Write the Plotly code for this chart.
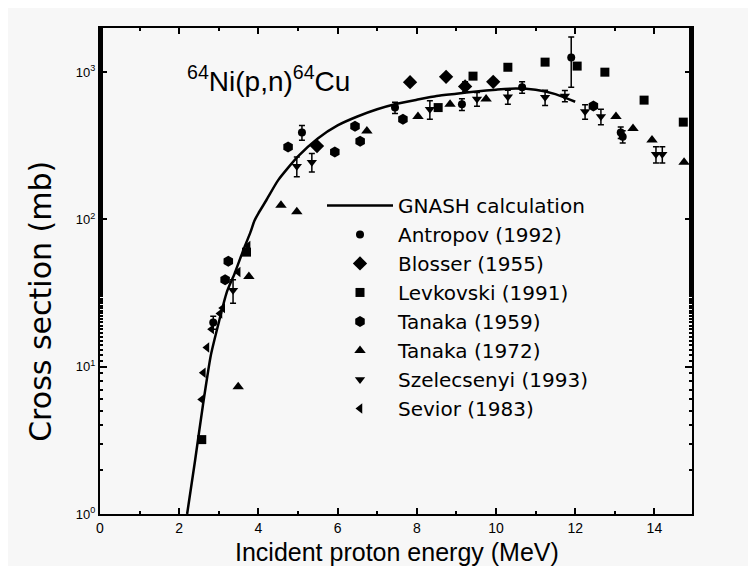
import plotly.graph_objects as go

# GNASH calculation curve
gnash_E = [2.2, 2.4, 2.6, 2.8, 3.0, 3.2, 3.4, 3.6, 3.8, 3.9, 4.0, 4.2, 4.5, 5.0, 5.5, 6.0,
           6.5, 7.0, 7.5, 8.0, 8.5, 9.0, 9.5, 10.0, 10.5, 11.0, 11.5, 12.0]
gnash_xs = [1.0, 2.3, 5.5, 12, 20, 32, 43, 60, 82, 98, 110, 135, 185, 268, 355, 435,
            500, 560, 610, 650, 690, 715, 740, 760, 775, 760, 710, 630]

# Experimental data
antropov_E = [2.86, 5.1, 7.45, 9.14, 10.66, 11.9, 13.15, 13.2]
antropov_xs = [20, 390, 575, 605, 790, 1260, 390, 365]
antropov_err = [2, 45, 50, 55, 70, 470, 35, 35]

blosser_E = [5.48, 7.83, 8.74, 9.22, 9.93]
blosser_xs = [315, 855, 930, 800, 860]
blosser_err = [0, 0, 0, 60, 0]

levkovski_E = [2.57, 3.7, 8.54, 9.42, 10.3, 11.24, 12.05, 12.75, 13.74, 14.73]
levkovski_xs = [3.2, 60, 575, 940, 1080, 1170, 1100, 1000, 646, 458]

tanaka59_E = [3.16, 3.24, 4.75, 5.93, 6.44, 7.65, 12.46, 6.57]
tanaka59_xs = [39, 52, 310, 287, 430, 480, 590, 340]

tanaka72_E = [3.49, 3.76, 4.57, 4.97, 6.74, 8.03, 8.84, 9.75, 13.03, 13.46, 13.94, 14.75]
tanaka72_xs = [7.3, 41, 125, 113, 398, 500, 605, 657, 500, 415, 346, 245]

szel_E = [3.36, 4.97, 5.35, 8.33, 9.52, 10.3, 11.24, 11.74, 12.25, 12.65, 14.04, 14.2]
szel_xs = [33, 230, 245, 560, 657, 680, 675, 690, 540, 500, 277, 277]
szel_err = [6, 35, 35, 80, 70, 75, 80, 60, 60, 60, 35, 35]

sevior_E = [2.57, 2.61, 2.70, 2.82, 3.03, 3.10, 3.49, 3.74]
sevior_xs = [6.0, 9.1, 13.5, 18, 23, 25, 44, 66]

ytick_vals = [1, 10, 100, 1000]
ytick_text = ["10<sup>0</sup>", "10<sup>1</sup>", "10<sup>2</sup>", "10<sup>3</sup>"]
xtick_vals = [0, 2, 4, 6, 8, 10, 12, 14]

FONT = "Liberation Sans, Arial, sans-serif"
WIDE = "DejaVu Sans, Liberation Sans, sans-serif"
BLACK = "black"

fig = go.Figure()

fig.add_trace(go.Scatter(x=gnash_E, y=gnash_xs, mode="lines", name="GNASH calculation",
                         line=dict(color=BLACK, width=2.5, shape="spline", smoothing=0.6)))

def err(arr):
    return dict(type="data", array=arr, visible=True, color=BLACK, thickness=1.5, width=3)

fig.add_trace(go.Scatter(x=antropov_E, y=antropov_xs, mode="markers", name="Antropov (1992)",
                         marker=dict(symbol="circle", size=8, color=BLACK),
                         error_y=err(antropov_err)))
fig.add_trace(go.Scatter(x=blosser_E, y=blosser_xs, mode="markers", name="Blosser (1955)",
                         marker=dict(symbol="diamond", size=11, color=BLACK),
                         error_y=err(blosser_err)))
fig.add_trace(go.Scatter(x=levkovski_E, y=levkovski_xs, mode="markers", name="Levkovski (1991)",
                         marker=dict(symbol="square", size=9, color=BLACK)))
fig.add_trace(go.Scatter(x=tanaka59_E, y=tanaka59_xs, mode="markers", name="Tanaka (1959)",
                         marker=dict(symbol="hexagon", size=11, color=BLACK)))
fig.add_trace(go.Scatter(x=tanaka72_E, y=tanaka72_xs, mode="markers", name="Tanaka (1972)",
                         marker=dict(symbol="triangle-up", size=10, color=BLACK)))
fig.add_trace(go.Scatter(x=szel_E, y=szel_xs, mode="markers", name="Szelecsenyi (1993)",
                         marker=dict(symbol="triangle-down", size=9, color=BLACK),
                         error_y=err(szel_err)))
fig.add_trace(go.Scatter(x=sevior_E, y=sevior_xs, mode="markers", name="Sevior (1983)",
                         marker=dict(symbol="triangle-left", size=9, color=BLACK)))

fig.add_annotation(text="<sup>64</sup>Ni(p,n)<sup>64</sup>Cu", xref="paper", yref="paper",
                   x=0.285, y=0.895, xanchor="center", yanchor="middle", showarrow=False,
                   font=dict(family=FONT, size=28, color=BLACK))
fig.add_annotation(text="Incident proton energy (MeV)", xref="paper", yref="paper",
                   x=0.5025, y=-0.078, xanchor="center", yanchor="middle", showarrow=False,
                   font=dict(family=FONT, size=25, color=BLACK))
fig.add_annotation(text="Cross section (mb)", xref="paper", yref="paper", textangle=-90,
                   x=-0.101, y=0.437, xanchor="center", yanchor="middle", showarrow=False,
                   font=dict(family=WIDE, size=30, color=BLACK))

fig.update_layout(
    width=756, height=566,
    margin=dict(l=92, r=72, t=20, b=60),
    paper_bgcolor="#f7f7f7", plot_bgcolor="#f7f7f7",
    font=dict(family=FONT, color=BLACK, size=14),
    showlegend=True,
    legend=dict(x=0.375, y=0.675, xanchor="left", yanchor="top",
                bgcolor="rgba(0,0,0,0)", font=dict(family=WIDE, size=20, color=BLACK),
                tracegroupgap=0, itemwidth=66),
)

fig.update_xaxes(range=[0, 14.95], showline=True, linecolor=BLACK, linewidth=2, mirror="ticks",
                 ticks="inside", ticklen=6, tickwidth=1.5, tickcolor=BLACK,
                 tickvals=xtick_vals, showgrid=False, zeroline=False,
                 minor=dict(ticks="inside", ticklen=3, dtick=1, tick0=0, tickcolor=BLACK, showgrid=False),
                 tickfont=dict(family=FONT, size=14, color=BLACK))
fig.update_yaxes(type="log", range=[0, 3.3], showline=True, linecolor=BLACK, linewidth=2, mirror="ticks",
                 ticks="inside", ticklen=7, tickwidth=1.5, tickcolor=BLACK,
                 tickvals=ytick_vals, ticktext=ytick_text, showgrid=False, zeroline=False,
                 minor=dict(ticks="inside", ticklen=3, tickcolor=BLACK, showgrid=False),
                 tickfont=dict(family=FONT, size=13, color=BLACK))

fig.write_html("out.html")
